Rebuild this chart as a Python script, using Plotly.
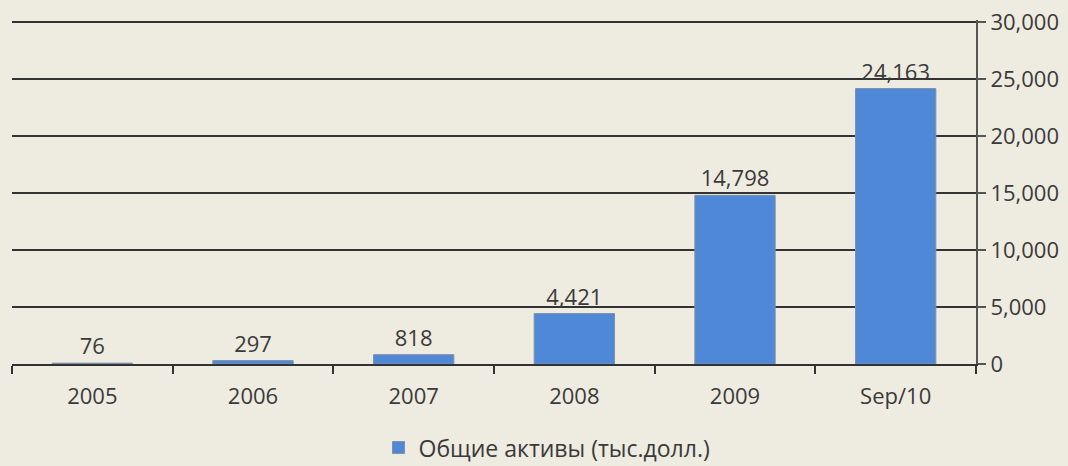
import plotly.graph_objects as go

categories = ["2005", "2006", "2007", "2008", "2009", "Sep/10"]
values = [76, 297, 818, 4421, 14798, 24163]
series_name = "Общие активы (тыс.долл.)"
y_ticks = [0, 5000, 10000, 15000, 20000, 25000, 30000]

BG = "#EEEBE1"
FONT = "Open Sans"
TXT = "#3a3a3a"
FS = 22

fig = go.Figure()
fig.add_trace(go.Bar(
    x=categories,
    y=values,
    name=series_name,
    width=0.5,
    marker=dict(color="#4F88D6", line=dict(color="#8090A8", width=1)),
    text=[f"{v:,}" for v in values],
    textposition="outside",
    constraintext="none",
    textfont=dict(family=FONT, size=FS, color=TXT),
    cliponaxis=False,
    showlegend=True,
))

fig.update_layout(
    width=1068,
    height=466,
    paper_bgcolor=BG,
    plot_bgcolor=BG,
    margin=dict(l=12, r=92, t=20, b=102, autoexpand=False),
    font=dict(family=FONT, size=FS, color=TXT),
    bargap=0.5,
    showlegend=True,
    legend=dict(
        orientation="h",
        x=0.555, xanchor="center",
        y=-0.243, yanchor="middle",
        font=dict(family=FONT, size=23, color=TXT),
        bgcolor="rgba(0,0,0,0)",
        itemwidth=30,
        tracegroupgap=0,
    ),
    xaxis=dict(
        type="category",
        showgrid=False,
        showline=True,
        linecolor="#333333",
        linewidth=2,
        ticks="outside",
        tickson="boundaries",
        ticklen=8,
        tickwidth=2,
        tickcolor="#333333",
        tickangle=0,
        ticklabelstandoff=12,
        tickfont=dict(family=FONT, size=FS, color=TXT),
        zeroline=False,
        automargin=False,
    ),
    yaxis=dict(
        side="right",
        range=[0, 30180],
        tickvals=y_ticks,
        tickformat=",",
        showgrid=True,
        gridcolor="#333333",
        gridwidth=2,
        showline=True,
        linecolor="#555555",
        linewidth=2,
        ticks="outside",
        ticklen=8,
        tickwidth=2,
        tickcolor="#555555",
        tickfont=dict(family=FONT, size=FS, color=TXT),
        zeroline=False,
        automargin=False,
    ),
)

fig.write_html(
    "out.html",
    config={"displayModeBar": False},
    post_script="document.body.style.margin='0px';",
)
